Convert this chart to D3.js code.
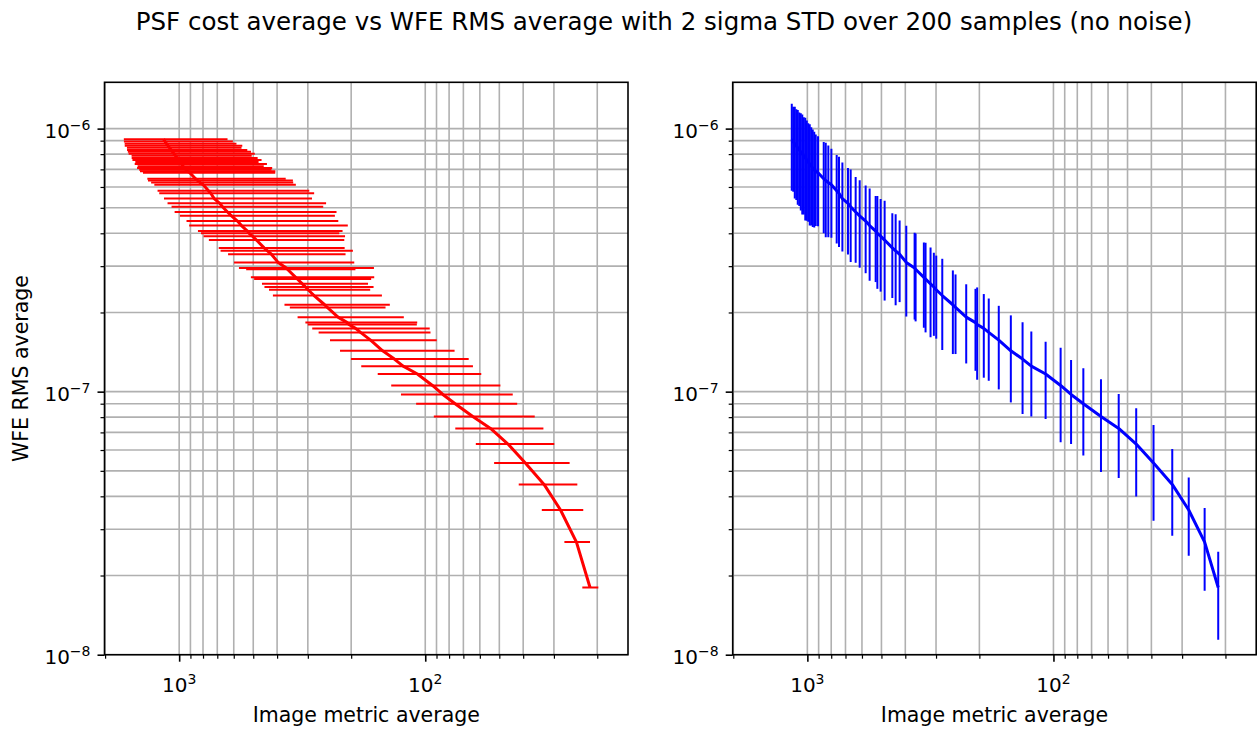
<!DOCTYPE html>
<html>
<head>
<meta charset="utf-8">
<script src="https://cdn.jsdelivr.net/npm/d3@7"></script>
<style>
  body { margin: 0; background: #fff; }
  svg { display: block; font-family: "DejaVu Sans", sans-serif; }
</style>
</head>
<body>
<svg id="chart" width="1260" height="729"></svg>
<script>
// image metric (PSF cost) average, largest first
const metricMean = [1157, 1141, 1125, 1109, 1094, 1078.6, 1063.5, 1048.8, 1034.2, 1019.8,
    1005.6, 991.6, 977.9, 964.2, 950.8, 937.6, 924.6,
    905, 858, 842, 822, 798.6, 760, 743.8, 720.6, 683.9, 666.8, 636.4,
    612.9, 579.6, 558.4, 527.8, 519.5, 503.8, 485.3, 451.6, 437.8, 421.8,
    396.3, 366.6, 363.2, 336.2, 330.9, 315.8, 306.2, 299.4, 283.0, 256.3,
    250.0, 226.2, 207.4, 204.2, 191.9, 183.2, 166.8, 149.0, 133.5, 123.0,
    107.6, 93.5, 84.8, 75.6, 64.1, 54.3, 46.1, 39.2, 32.9, 28.2,
    24.3, 21.4]

// 2 sigma of the image metric
const metricStd = [521, 536, 540, 555, 536, 550, 553, 556, 527, 540,
    543, 516, 538, 511, 532, 516, 518,
    498, 489, 497, 478, 463, 464, 461, 432, 431, 407, 407,
    380, 354, 352, 311, 296, 292, 272, 239, 241, 211,
    202, 205, 171, 175, 165, 145, 144, 132, 133, 117,
    105, 104, 99.6, 96, 96, 88, 77, 73.0, 66.9, 59.0,
    48.4, 44.0, 40.7, 33.3, 28.2, 21.2, 16.2, 13.3, 8.8, 5.4,
    2.9, 1.6]

// WFE RMS average (nm)
const wfeMeanNm = [912, 893, 876, 860, 845, 830, 816, 802, 788, 774,
    760, 746, 733, 720, 708, 697, 688,
    680, 645, 635, 624, 612, 580, 568, 542, 520, 505, 482,
    466, 445, 428, 408, 400, 390, 377, 352, 343, 333,
    310, 295, 292, 272, 268, 257, 250, 244, 232, 214,
    209, 192, 183, 180, 174, 168, 157, 143.0, 133.0, 125.0,
    116.7, 105.6, 97.6, 90.0, 80.5, 72.5, 63.2, 53.5, 44.4, 35.5,
    26.8, 18.0]

// 2 sigma of the WFE RMS (nm)
const wfeStdNm = [332, 318, 334, 325, 332, 322, 328, 330, 316, 327,
    314, 303, 305, 292, 285, 276, 262,
    255, 245, 249, 238, 227, 214, 213, 201, 188, 194, 173,
    170, 163, 164, 147, 154, 150, 155, 125, 130, 114,
    117, 107, 107, 97, 100, 96, 87, 85, 88, 75,
    70, 64, 63, 69, 61, 58, 55, 52.0, 50.7, 44.5,
    38.0, 41.4, 34.3, 32.8, 31.0, 25.5, 23.3, 21.2, 16.1, 11.7,
    9.3, 6.6]

// axis limits (x axis is inverted)
const xLimits = [2011, 15.0]
const yLimits = [1e-8, 1.5e-6]

const title = "PSF cost average vs WFE RMS average with 2 sigma STD over 200 samples (no noise)"
const xLabel = "Image metric average"
const yLabel = "WFE RMS average"

const svg = d3.select("#chart")

const plotTop = 82.3, plotBottom = 654.7
const pw = 523.5, ph = plotBottom - plotTop

const points = d3.range(wfeMeanNm.length).map(i => ({
    x: metricMean[i],
    xe: metricStd[i],
    y: wfeMeanNm[i] * 1e-9,
    ye: wfeStdNm[i] * 1e-9
}))

const x = d3.scaleLog().domain(xLimits).range([0, pw])
const y = d3.scaleLog().domain(yLimits).range([ph, 0])

const isMajor = v => Math.abs(Math.log10(v) - Math.round(Math.log10(v))) < 1e-6

const panels = [
    { left: 104.5, err: "x", color: "#ff0000", id: "p1" },
    { left: 732.7, err: "y", color: "#0000ff", id: "p2" }
]

// title
svg.append("text")
    .attr("x", 664)
    .attr("y", 30)
    .attr("text-anchor", "middle")
    .style("font-size", "24.5px")
    .attr("fill", "#000")
    .text(title)

// y label only on the first panel
svg.append("text")
    .attr("transform", "translate(28," + (plotTop + ph / 2) + ") rotate(-90)")
    .attr("text-anchor", "middle")
    .style("font-size", "20.5px")
    .text(yLabel)

panels.forEach(p => {
    let g = svg.append("g").attr("transform", "translate(" + p.left + "," + plotTop + ")")

    g.append("clipPath").attr("id", "clip-" + p.id)
        .append("rect").attr("width", pw).attr("height", ph)

    // grid, major + minor
    let grid = g.append("g").attr("stroke", "#b0b0b0").attr("stroke-width", 1.6)
    grid.selectAll(".gx")
        .data(x.ticks())
        .enter().append("line")
        .attr("x1", d => x(d)).attr("x2", d => x(d))
        .attr("y1", 0).attr("y2", ph)
    grid.selectAll(".gy")
        .data(y.ticks())
        .enter().append("line")
        .attr("y1", d => y(d)).attr("y2", d => y(d))
        .attr("x1", 0).attr("x2", pw)

    let data = g.append("g").attr("clip-path", "url(#clip-" + p.id + ")")

    // error bars
    data.selectAll(".bar")
        .data(points)
        .enter().append("line")
        .attr("class", "bar")
        .attr("stroke", p.color)
        .attr("stroke-width", 2)
        .attr("x1", d => p.err == "x" ? x(d.x + d.xe) : x(d.x))
        .attr("x2", d => p.err == "x" ? x(d.x - d.xe) : x(d.x))
        .attr("y1", d => p.err == "x" ? y(d.y) : y(d.y + d.ye))
        .attr("y2", d => p.err == "x" ? y(d.y) : y(d.y - d.ye))

    // mean line
    data.append("path")
        .datum(points)
        .attr("fill", "none")
        .attr("stroke", p.color)
        .attr("stroke-width", 3)
        .attr("stroke-linejoin", "round")
        .attr("d", d3.line().x(d => x(d.x)).y(d => y(d.y)))

    // ticks
    let xMajor = x.ticks().filter(isMajor)
    let xMinor = x.ticks().filter(v => !isMajor(v))
    let yMajor = y.ticks().filter(isMajor)
    let yMinor = y.ticks().filter(v => !isMajor(v))

    let styleAxis = (a, w) => {
        a.select(".domain").remove()
        a.selectAll(".tick line").attr("stroke", "#000").attr("stroke-width", w)
        a.selectAll(".tick text").remove()
    }

    g.append("g").attr("transform", "translate(0," + ph + ")")
        .call(d3.axisBottom(x).tickValues(xMajor).tickSize(7))
        .call(a => styleAxis(a, 1.6))
    g.append("g").attr("transform", "translate(0," + ph + ")")
        .call(d3.axisBottom(x).tickValues(xMinor).tickSize(4))
        .call(a => styleAxis(a, 1.2))
    g.append("g")
        .call(d3.axisLeft(y).tickValues(yMajor).tickSize(7))
        .call(a => styleAxis(a, 1.6))
    g.append("g")
        .call(d3.axisLeft(y).tickValues(yMinor).tickSize(4))
        .call(a => styleAxis(a, 1.2))

    // tick labels as 10^n
    xMajor.forEach(v => {
        let t = g.append("text")
            .attr("x", x(v))
            .attr("y", ph + 37)
            .attr("text-anchor", "middle")
            .style("font-size", "20px")
        t.append("tspan").text("10")
        t.append("tspan").attr("dy", -8).style("font-size", "14px").text(Math.round(Math.log10(v)))
    })
    yMajor.forEach(v => {
        let t = g.append("text")
            .attr("x", -14)
            .attr("y", y(v) + 9)
            .attr("text-anchor", "end")
            .style("font-size", "20px")
        t.append("tspan").text("10")
        t.append("tspan").attr("dy", -8).style("font-size", "14px")
            .text("\u2212" + Math.abs(Math.round(Math.log10(v))))
    })

    // spines
    g.append("rect")
        .attr("width", pw).attr("height", ph)
        .attr("fill", "none")
        .attr("stroke", "#000")
        .attr("stroke-width", 1.6)

    g.append("text")
        .attr("x", pw / 2)
        .attr("y", ph + 67)
        .attr("text-anchor", "middle")
        .style("font-size", "20.5px")
        .text(xLabel)
})
</script>
</body>
</html>
